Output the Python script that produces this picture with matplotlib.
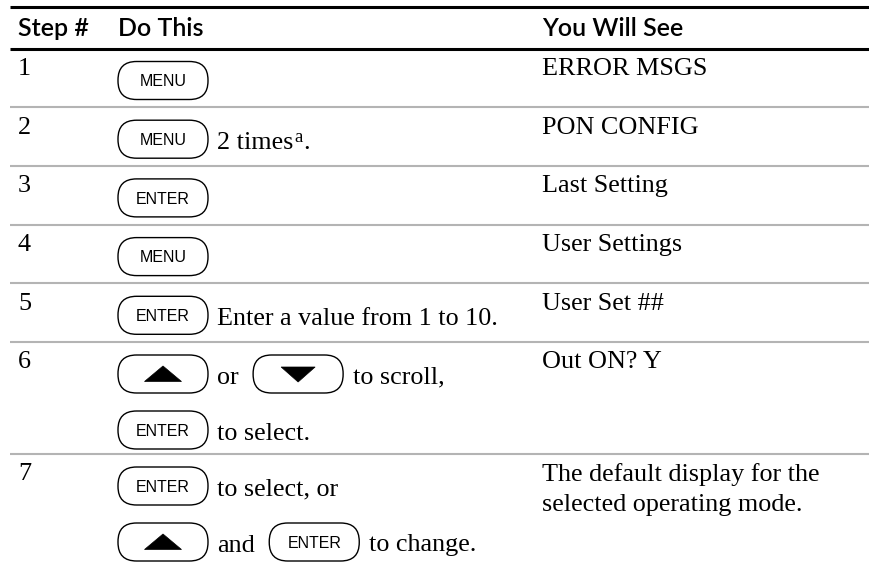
import matplotlib
import matplotlib.pyplot as plt
from matplotlib.patches import FancyBboxPatch, Polygon
matplotlib.use('Agg')

W, H = 870, 564
HEADERS = ['Step #', 'Do This', 'You Will See']
STEPS = ['1', '2', '3', '4', '5', '6', '7']
# each step: list of lines, each line a list of tokens
DO_THIS = [
    [[('key', 'MENU')]],
    [[('key', 'MENU'), ('text', '2 times'), ('sup', 'a'), ('text', '.')]],
    [[('key', 'ENTER')]],
    [[('key', 'MENU')]],
    [[('key', 'ENTER'), ('text', 'Enter a value from 1 to 10.')]],
    [[('up', ''), ('text', 'or'), ('down', ''), ('text', 'to scroll,')],
     [('key', 'ENTER'), ('text', 'to select.')]],
    [[('key', 'ENTER'), ('text', 'to select, or')],
     [('up', ''), ('text', 'and'), ('key', 'ENTER'), ('text', 'to change.')]],
]
YOU_SEE = [
    ['ERROR MSGS'],
    ['PON CONFIG'],
    ['Last Setting'],
    ['User Settings'],
    ['User Set ##'],
    ['Out ON? Y'],
    ['The default display for the', 'selected operating mode.'],
]

COL_X = [18, 118, 542]
SERIF = 'Liberation Serif'
SANS = 'Liberation Sans'
HEAD = 'Lato'
GREY = '#b4b4b4'
BTN_W, BTN_H = 90, 38
SUB_PITCH = 56


def draw_button(ax, x, cy, kind, label):
    ax.add_patch(FancyBboxPatch((x, cy - BTN_H / 2), BTN_W, BTN_H,
                                boxstyle='round,pad=0,rounding_size=18.5',
                                fc='white', ec='black', lw=1.0, zorder=2))
    cx = x + BTN_W / 2
    if kind == 'key':
        ax.text(cx, cy + 5.6, label, family=SANS, fontsize=11.5,
                ha='center', va='baseline', zorder=3)
    elif kind == 'up':
        ax.add_patch(Polygon([(cx - 18.5, cy + 7.5), (cx + 18.5, cy + 7.5), (cx, cy - 8)],
                             closed=True, fc='black', ec='black', lw=0.5, zorder=3))
    else:
        ax.add_patch(Polygon([(cx - 17, cy - 7), (cx + 17, cy - 7), (cx, cy + 8)],
                             closed=True, fc='black', ec='black', lw=0.5, zorder=3))
    return x + BTN_W


def draw_line(ax, renderer, tokens, cy):
    x = COL_X[1]
    prev = None
    for kind, val in tokens:
        if kind in ('key', 'up', 'down'):
            if prev == 'text':
                x += 14
            x = draw_button(ax, x, cy, kind, val)
        elif kind == 'sup':
            t = ax.text(x + 1, cy + 2.5, val, family=SERIF, fontsize=13.5,
                        ha='left', va='baseline')
            x += t.get_window_extent(renderer).width + 1
        else:
            if prev in ('key', 'up', 'down'):
                x += 9.5
            t = ax.text(x, cy + 9.5, val, family=SERIF, fontsize=18.8,
                        ha='left', va='baseline')
            x += t.get_window_extent(renderer).width
        prev = 'text' if kind != 'key' and kind not in ('up', 'down') else kind


fig = plt.figure(figsize=(W / 100, H / 100), dpi=100)
ax = fig.add_axes([0, 0, 1, 1])
ax.set_xlim(0, W)
ax.set_ylim(H, 0)
ax.axis('off')
renderer = fig.canvas.get_renderer()

# header
ax.plot([10, W], [6.5, 6.5], color='black', lw=2.2, solid_capstyle='butt')
ax.plot([10, W], [48.5, 48.5], color='black', lw=2.2, solid_capstyle='butt')
for hx, h in zip(COL_X, HEADERS):
    ax.text(hx, 36.5, h, family=HEAD, fontsize=18, fontweight='semibold',
            ha='left', va='baseline')

top = 48.5
for step, lines, see in zip(STEPS, DO_THIS, YOU_SEE):
    if step != '1':
        ax.plot([10, W], [top, top], color=GREY, lw=1.5, solid_capstyle='butt')
    ax.text(COL_X[0], top + 26.5, step, family=SERIF, fontsize=18.8,
            ha='left', va='baseline')
    for i, s in enumerate(see):
        ax.text(COL_X[2], top + 26.5 + i * 31, s, family=SERIF, fontsize=18.8,
                ha='left', va='baseline')
    for i, tokens in enumerate(lines):
        draw_line(ax, renderer, tokens, top + 32 + i * SUB_PITCH)
    top += 58.7 if len(lines) == 1 else 112

fig.savefig('out.png', dpi=100)
